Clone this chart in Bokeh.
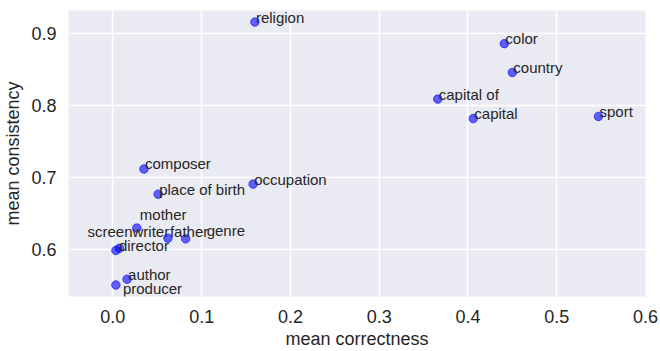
from bokeh.plotting import figure
from bokeh.models import ColumnDataSource, FixedTicker, Range1d
from bokeh.core.properties import value
from bokeh.embed import file_html
from bokeh.resources import INLINE

# ---- data ----
relations = ["religion", "color", "country", "capital of", "capital", "sport",
             "composer", "occupation", "place of birth", "mother", "screenwriter",
             "father", "genre", "director", "author", "producer"]
mean_correctness = [0.160, 0.441, 0.450, 0.366, 0.406, 0.547,
                    0.035, 0.158, 0.051, 0.027, 0.0074,
                    0.062, 0.082, 0.0034, 0.016, 0.0034]
mean_consistency = [0.916, 0.886, 0.846, 0.809, 0.782, 0.785,
                    0.712, 0.691, 0.677, 0.630, 0.602,
                    0.616, 0.615, 0.599, 0.559, 0.551]
x_ticks = [0.0, 0.1, 0.2, 0.3, 0.4, 0.5, 0.6]
x_tick_labels = ["0.0", "0.1", "0.2", "0.3", "0.4", "0.5", "0.6"]
y_ticks = [0.6, 0.7, 0.8, 0.9]
y_tick_labels = ["0.6", "0.7", "0.8", "0.9"]

# label placement (screen pixels, as moved apart in the original)
label_dx = [1, 1, 1, 1, 1, 1, 1, 1, 1, 3, -32, 2, 21, 3, 1, 7]
label_dy = [-5, -5, -5, -5, -5, -5, -5, -5, -5, -14, -17, -7, -8, -5, -5, 4]

FONT = "Liberation Sans"
TXT = "#262626"

src = ColumnDataSource(dict(x=mean_correctness, y=mean_consistency, label=relations,
                            dx=label_dx, dy=label_dy))

p = figure(width=660, height=351, output_backend="svg", toolbar_location=None,
           x_range=Range1d(-0.05, 0.6), y_range=Range1d(0.535, 0.932),
           min_border_left=67, min_border_right=15, min_border_top=10, min_border_bottom=55)
p.background_fill_color = "#EAEAF2"
p.border_fill_color = "white"
p.outline_line_color = None

p.scatter("x", "y", source=src, size=8.5, fill_color="blue", fill_alpha=0.6,
          line_color="blue", line_alpha=0.6)
p.text("x", "y", text="label", source=src, x_offset="dx", y_offset="dy",
       text_font=value(FONT), text_font_size="15px", text_color=TXT,
       text_align="left", text_baseline="alphabetic")

for ax in (p.xaxis, p.yaxis):
    ax.axis_line_color = None
    ax.major_tick_line_color = None
    ax.minor_tick_line_color = None
    ax.major_tick_out = 0
    ax.major_tick_in = 0
    ax.major_label_text_font = FONT
    ax.major_label_text_font_size = "18px"
    ax.major_label_text_color = TXT
    ax.axis_label_text_font = FONT
    ax.axis_label_text_font_size = "18px"
    ax.axis_label_text_font_style = "normal"
    ax.axis_label_text_color = TXT

p.xaxis.ticker = FixedTicker(ticks=x_ticks)
p.yaxis.ticker = FixedTicker(ticks=y_ticks)
p.xaxis.major_label_overrides = dict(zip(x_ticks, x_tick_labels))
p.yaxis.major_label_overrides = dict(zip(y_ticks, y_tick_labels))
p.xaxis.axis_label = "mean correctness"
p.yaxis.axis_label = "mean consistency"
p.xaxis.major_label_standoff = 13
p.yaxis.major_label_standoff = 12
p.xaxis.axis_label_standoff = 3
p.yaxis.axis_label_standoff = 5

p.xgrid.ticker = FixedTicker(ticks=x_ticks)
p.ygrid.ticker = FixedTicker(ticks=y_ticks)
p.grid.grid_line_color = "white"
p.grid.grid_line_width = 1.5

open("out.html", "w").write(file_html(p, INLINE))
